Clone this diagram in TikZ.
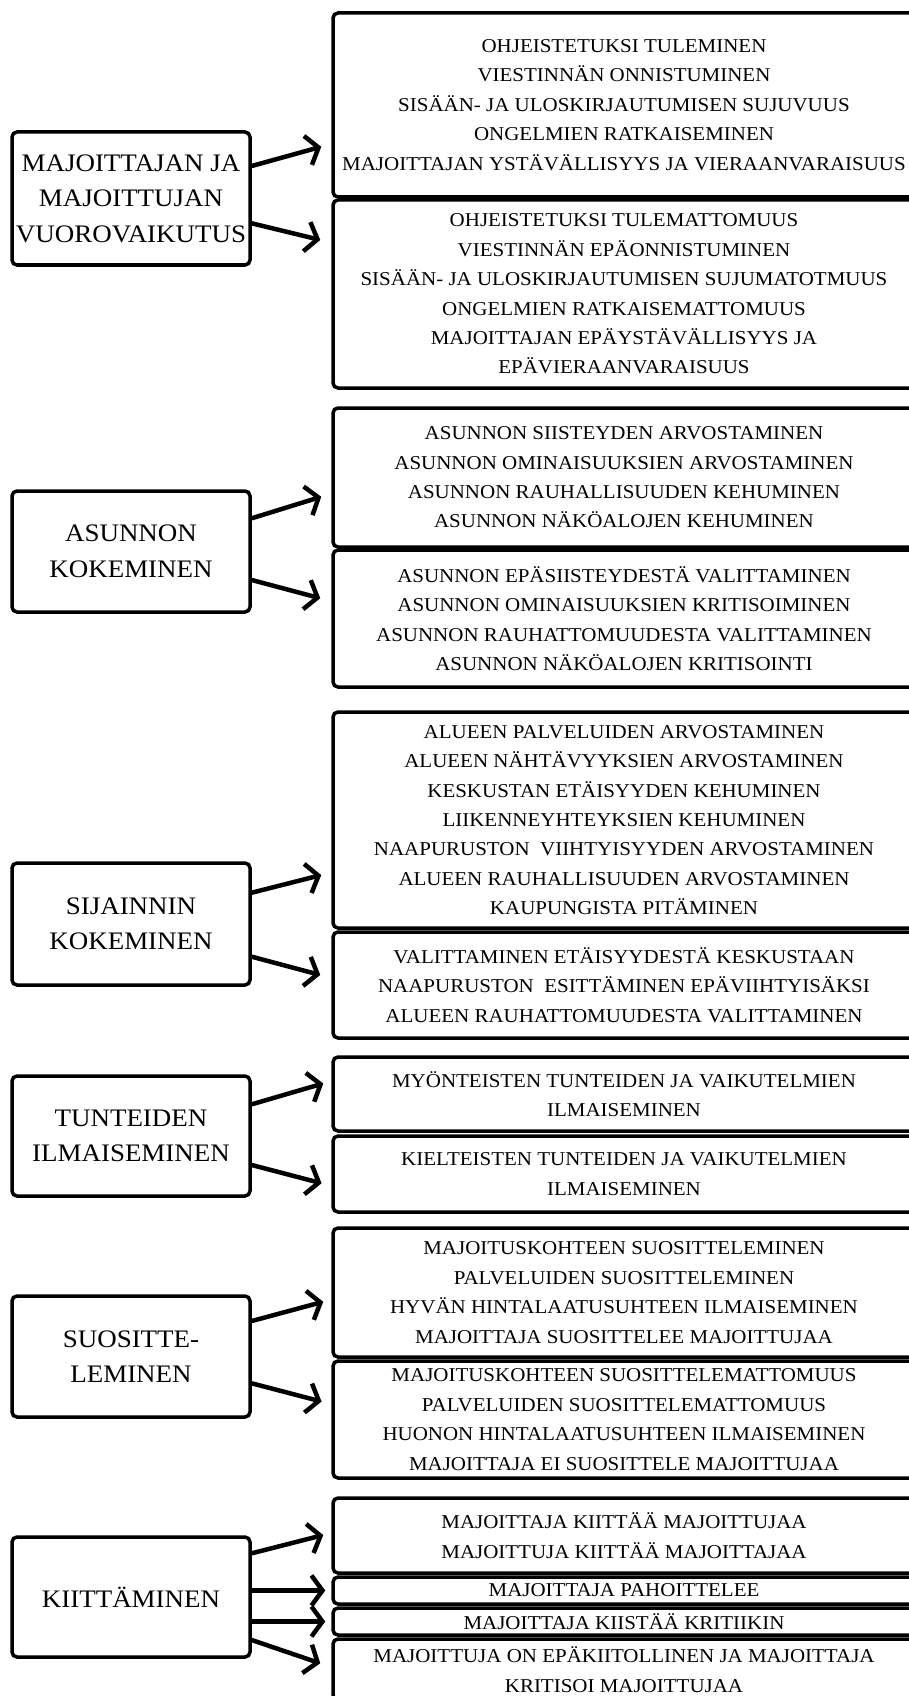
\documentclass[tikz,border=0pt]{standalone}
\usepackage{fontspec}
\setmainfont{Liberation Serif}[FakeStretch=1.07]
\usetikzlibrary{arrows.meta}
\tikzset{%
  catbox/.style={draw,line width=3.5pt,rounded corners=5pt,align=center,inner sep=0pt,
    minimum width=238pt,font=\fontsize{25.2}{35.5}\selectfont},
  itembox/.style={draw,line width=3.5pt,rounded corners=5pt,align=center,inner sep=0pt,
    minimum width=582pt,font=\fontsize{19.6}{29.4}\selectfont},
  bigarrow/.style={line width=4.5pt,-{Straight Barb[length=11pt,width=30pt]}}
}

\begin{document}
\begin{tikzpicture}[x=1pt,y=-1pt]
    \useasboundingbox (0,0) rectangle (909,1696);
    % left column
    \node[catbox,minimum height=133pt] (l1) at (131,198.5) {MAJOITTAJAN JA\\MAJOITTUJAN\\VUOROVAIKUTUS};
    \node[catbox,minimum height=121pt] (l2) at (131,551.5) {ASUNNON\\KOKEMINEN};
    \node[catbox,minimum height=122pt] (l3) at (131,924) {SIJAINNIN\\KOKEMINEN};
    \node[catbox,minimum height=120pt] (l4) at (131,1136) {TUNTEIDEN\\ILMAISEMINEN};
    \node[catbox,minimum height=121pt] (l5) at (131,1356.5) {SUOSITTE-\\LEMINEN};
    \node[catbox,minimum height=120pt] (l6) at (131,1597) {KIITTÄMINEN};
    % right column
    \node[itembox,minimum height=184pt] (r1a) at (624,105) {OHJEISTETUKSI TULEMINEN\\VIESTINNÄN ONNISTUMINEN\\SISÄÄN- JA ULOSKIRJAUTUMISEN SUJUVUUS\\ONGELMIEN RATKAISEMINEN\\MAJOITTAJAN YSTÄVÄLLISYYS JA VIERAANVARAISUUS};
    \node[itembox,minimum height=188pt] (r1b) at (624,294) {OHJEISTETUKSI TULEMATTOMUUS\\VIESTINNÄN EPÄONNISTUMINEN\\SISÄÄN- JA ULOSKIRJAUTUMISEN SUJUMATOTMUUS\\ONGELMIEN RATKAISEMATTOMUUS\\MAJOITTAJAN EPÄYSTÄVÄLLISYYS JA\\EPÄVIERAANVARAISUUS};
    \node[itembox,minimum height=139pt] (r2a) at (624,477.5) {ASUNNON SIISTEYDEN ARVOSTAMINEN\\ASUNNON OMINAISUUKSIEN ARVOSTAMINEN\\ASUNNON RAUHALLISUUDEN KEHUMINEN\\ASUNNON NÄKÖALOJEN KEHUMINEN};
    \node[itembox,minimum height=137pt] (r2b) at (624,618.5) {ASUNNON EPÄSIISTEYDESTÄ VALITTAMINEN\\ASUNNON OMINAISUUKSIEN KRITISOIMINEN\\ASUNNON RAUHATTOMUUDESTA VALITTAMINEN\\ASUNNON NÄKÖALOJEN KRITISOINTI};
    \node[itembox,minimum height=216pt] (r3a) at (624,820) {ALUEEN PALVELUIDEN ARVOSTAMINEN\\ALUEEN NÄHTÄVYYKSIEN ARVOSTAMINEN\\KESKUSTAN ETÄISYYDEN KEHUMINEN\\LIIKENNEYHTEYKSIEN KEHUMINEN\\NAAPURUSTON\ \ VIIHTYISYYDEN ARVOSTAMINEN\\ALUEEN RAUHALLISUUDEN ARVOSTAMINEN\\KAUPUNGISTA PITÄMINEN};
    \node[itembox,minimum height=106pt] (r3b) at (624,985) {VALITTAMINEN ETÄISYYDESTÄ KESKUSTAAN\\NAAPURUSTON\ \ ESITTÄMINEN EPÄVIIHTYISÄKSI\\ALUEEN RAUHATTOMUUDESTA VALITTAMINEN};
    \node[itembox,minimum height=74pt] (r4a) at (624,1094) {MYÖNTEISTEN TUNTEIDEN JA VAIKUTELMIEN\\ILMAISEMINEN};
    \node[itembox,minimum height=76pt] (r4b) at (624,1174) {KIELTEISTEN TUNTEIDEN JA VAIKUTELMIEN\\ILMAISEMINEN};
    \node[itembox,minimum height=129pt] (r5a) at (624,1292.5) {MAJOITUSKOHTEEN SUOSITTELEMINEN\\PALVELUIDEN SUOSITTELEMINEN\\HYVÄN HINTALAATUSUHTEEN ILMAISEMINEN\\MAJOITTAJA SUOSITTELEE MAJOITTUJAA};
    \node[itembox,minimum height=117pt] (r5b) at (624,1419.5) {MAJOITUSKOHTEEN SUOSITTELEMATTOMUUS\\PALVELUIDEN SUOSITTELEMATTOMUUS\\HUONON HINTALAATUSUHTEEN ILMAISEMINEN\\MAJOITTAJA EI SUOSITTELE MAJOITTUJAA};
    \node[itembox,minimum height=75pt] (r6a) at (624,1535.5) {MAJOITTAJA KIITTÄÄ MAJOITTUJAA\\MAJOITTUJA KIITTÄÄ MAJOITTAJAA};
    \node[itembox,minimum height=27pt] (r6b) at (624,1590.5) {MAJOITTAJA PAHOITTELEE};
    \node[itembox,minimum height=27pt] (r6c) at (624,1621.5) {MAJOITTAJA KIISTÄÄ KRITIIKIN};
    \node[itembox,minimum height=61pt] (r6d) at (624,1669.5) {MAJOITTUJA ON EPÄKIITOLLINEN JA MAJOITTAJA\\KRITISOI MAJOITTUJAA};
    % arrows
    \draw[bigarrow] ([yshift=32.5pt]l1.east) -- ([xshift=-10pt,yshift=52pt]r1a.south west);
    \draw[bigarrow] ([yshift=-24.8pt]l1.east) -- ([xshift=-11pt,yshift=-41.7pt]r1b.north west);
    \draw[bigarrow] ([yshift=33.2pt]l2.east) -- ([xshift=-10pt,yshift=52pt]r2a.south west);
    \draw[bigarrow] ([yshift=-28.5pt]l2.east) -- ([xshift=-11pt,yshift=-50pt]r2b.north west);
    \draw[bigarrow] ([yshift=31.3pt]l3.east) -- ([xshift=-10pt,yshift=54.7pt]r3a.south west);
    \draw[bigarrow] ([yshift=-32.7pt]l3.east) -- ([xshift=-11pt,yshift=-44.7pt]r3b.north west);
    \draw[bigarrow] ([yshift=31.7pt]l4.east) -- ([xshift=-8pt,yshift=49.3pt]r4a.south west);
    \draw[bigarrow] ([yshift=-29pt]l4.east) -- ([xshift=-9.7pt,yshift=-49pt]r4b.north west);
    \draw[bigarrow] ([yshift=35.5pt]l5.east) -- ([xshift=-8pt,yshift=57pt]r5a.south west);
    \draw[bigarrow] ([yshift=-26.8pt]l5.east) -- ([xshift=-9.7pt,yshift=-42.3pt]r5b.north west);
    \draw[bigarrow] ([yshift=43.7pt]l6.east) -- ([xshift=-8pt,yshift=39.7pt]r6a.south west);
    \draw[bigarrow] (l6.east |- r6b.west) -- ([xshift=-6pt]r6b.west);
    \draw[bigarrow] (l6.east |- r6c.west) -- ([xshift=-6pt]r6c.west);
    \draw[bigarrow] ([yshift=-43pt]l6.east) -- ([xshift=-11pt,yshift=6.2pt]r6d.west);
\end{tikzpicture}
\end{document}
